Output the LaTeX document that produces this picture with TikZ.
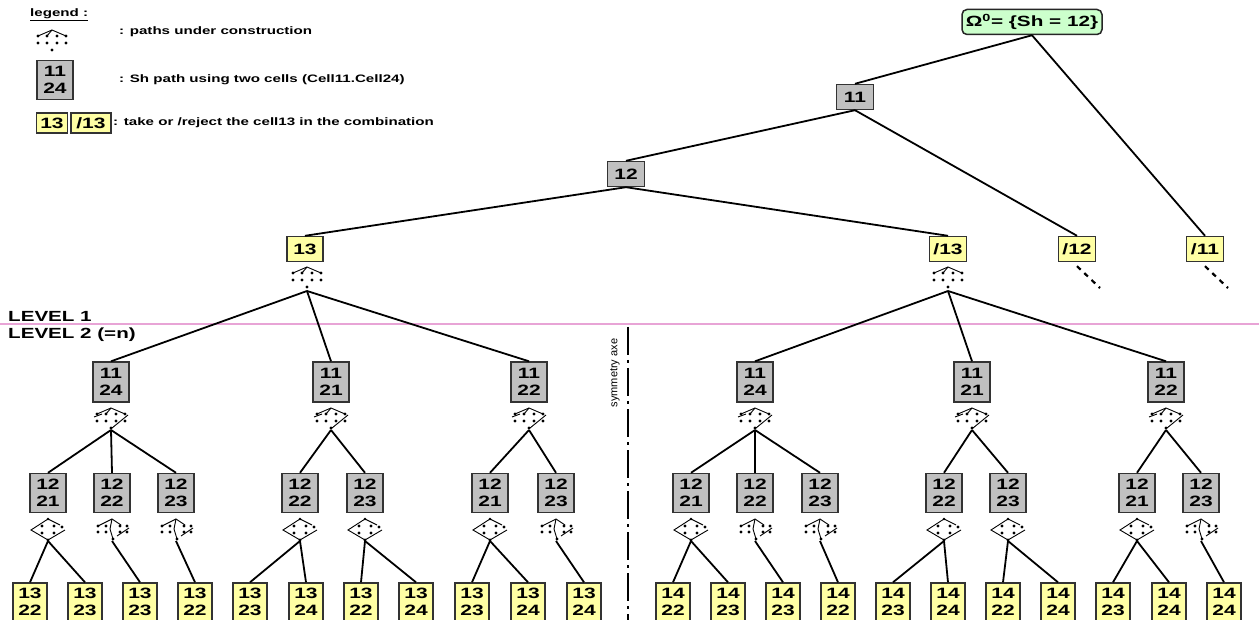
\documentclass[tikz,border=0pt]{standalone}
\usepackage{fontspec}
\setmainfont{Liberation Sans}[FakeStretch=1.4]
\newfontfamily\plainfont{Liberation Sans}
\definecolor{boxgray}{RGB}{192,192,192}
\definecolor{boxyellow}{RGB}{255,255,164}
\definecolor{boxgreen}{RGB}{204,255,204}
\definecolor{levelpink}{RGB}{232,164,214}
\tikzset{
  cell/.style={draw=black!80, line width=1.4pt, inner sep=0pt, align=center,
    font=\bfseries\fontsize{15}{16.5}\selectfont},
  gcell/.style={cell, fill=boxgray, minimum width=37, minimum height=25},
  ycell/.style={cell, fill=boxyellow, minimum width=36, minimum height=25},
  gpair/.style={cell, fill=boxgray, minimum width=36, minimum height=39},
  ypair/.style={cell, fill=boxyellow, minimum width=34, minimum height=38},
  rootbox/.style={draw=black!85, line width=1.5pt, fill=boxgreen, rounded corners=5pt,
    minimum width=140, minimum height=25, inner sep=2pt, font=\bfseries\fontsize{14.8}{17}\selectfont},
  edge/.style={line width=1.8pt, black},
  dashc/.style={line width=2.2pt, black, dash pattern=on 5pt off 5pt},
  gline/.style={line width=0.9pt, black},
  legtext/.style={anchor=west, inner sep=0pt, font=\bfseries\fontsize{10.8}{12}\selectfont},
  leveltext/.style={anchor=west, inner sep=0pt, font=\bfseries\fontsize{14.7}{16}\selectfont},
  glyphA/.pic={
    \draw[gline] (-14,6) -- (0,0) -- (14,6);
    \draw[gline] (0,0) -- (-5,6);
    \foreach \px in {-14,-5,5,14} {\fill (\px,6) circle (1.7pt); \fill (\px,13) circle (1.7pt);}
    \fill (0,20) circle (1.7pt);
  },
  glyphB/.pic={
    \draw[gline] (-14,6) -- (0,0) -- (14,6);
    \draw[gline] (0,0) -- (-5,6);
    \draw[gline] (17,7) -- (1,20);
    \draw[gline] (-17,9) -- (-9,6);
    \foreach \px in {-14,-5,5,14} {\fill (\px,6) circle (1.7pt); \fill (\px,13) circle (1.7pt);}
    \fill (0,20) circle (1.7pt);
  },
  glyphC/.pic={
    \draw[gline] (0,0) -- (-17,11) -- (0,21) -- (17,11);
    \draw[gline] (0,0) -- (12,6);
    \foreach \px in {-6,6} {\fill (\px,7) circle (1.7pt); \fill (\px,14) circle (1.7pt);}
    \fill (14,8) circle (1.7pt);
    \fill (0,0) circle (1.3pt);
    \fill (0,21) circle (1.7pt);
  },
  glyphD/.pic={
    \draw[gline] (-14,7) -- (0,0) -- (9,6);
    \draw[gline] (0,0) -- (-2,10) -- (1,20);
    \draw[gline] (17,9) -- (5,17);
    \foreach \px in {-14,-6,8,15} {\fill (\px,7) circle (1.7pt); \fill (\px,13) circle (1.7pt);}
    \fill (1,20) circle (1.7pt);
  },
}
\begin{document}
\begin{tikzpicture}[x=1pt, y=-1pt]
\useasboundingbox (0,0) rectangle (1259,620);
\fill[white] (0,0) rectangle (1259,620);

% ---------- legend ----------
\node[legtext] (lgtitle) at (30,15) {\underline{legend :}};
\pic at (52,30) {glyphA};
\node[legtext] (lg1) at (119,32) {: paths under construction};
\node[gpair] (lgbox) at (55,80) {11\\24};
\node[legtext] (lg2) at (119,80) {: Sh path using two cells (Cell11.Cell24)};
\node[ycell, minimum width=31, minimum height=20] (lgtake) at (52,123) {13};
\node[ycell, minimum width=40, minimum height=20] (lgrej) at (91,123) {/13};
\node[legtext] (lg3) at (113,123) {: take or /reject the cell13 in the combination};

% ---------- level separation ----------
\draw[levelpink, line width=1.8pt] (0,324) -- (1259,324);
\node[leveltext] (lev1) at (8,316) {LEVEL 1};
\node[leveltext] (lev2) at (8,335) {LEVEL 2 (=n)};

% ---------- symmetry axis ----------
\draw[line width=2.6pt, dash pattern=on 28pt off 5pt on 3pt off 5pt] (628,327) -- (628,622);
\node[rotate=90, inner sep=0pt, font=\plainfont\fontsize{11}{12}\selectfont] (symlbl) at (615,373) {symmetry axe};

% ---------- top of tree ----------
\node[rootbox] (root) at (1032,22) {Ω\textsuperscript{0}= \{Sh = 12\}};
\node[gcell] (n11) at (855,97) {11};
\node[gcell] (n12) at (626,174) {12};
\node[ycell] (t13) at (305,249) {13};
\node[ycell, minimum width=37] (s13) at (948,249) {/13};
\node[ycell, minimum width=37] (s12) at (1077,249) {/12};
\node[ycell, minimum width=37] (s11) at (1205,249) {/11};

\draw[edge] (root.south) -- (n11.north);
\draw[edge] (root.south) -- (s11.north);
\draw[edge] (n11.south) -- (n12.north);
\draw[edge] (n11.south) -- (s12.north);
\draw[edge] (n12.south) -- (t13.north);
\draw[edge] (n12.south) -- (s13.north);

\coordinate (e12) at (1100,288);
\coordinate (e11) at (1228,288);
\draw[dashc] ([yshift=-4pt]s12.south) -- (e12);
\draw[dashc] ([yshift=-4pt]s11.south) -- (e11);

% level-1 glyphs
\pic at (307,267) {glyphA};
\coordinate (gL) at (307,291);
\pic at (948,267) {glyphA};
\coordinate (gR) at (948,291);

% ---------- level 2 boxes ----------
\foreach \n/\x/\a/\b in {L1/111/11/24, L2/331/11/21, L3/529/11/22,
                          R1/755/11/24, R2/972/11/21, R3/1166/11/22} {
  \node[gpair, minimum height=40] (\n) at (\x,382) {\a\\\b};
  \pic at (\x,408) {glyphB};
  \coordinate (g\n) at (\x,430);
}
\foreach \c in {L1,L2,L3} \draw[edge] (gL) -- (\c.north);
\foreach \c in {R1,R2,R3} \draw[edge] (gR) -- (\c.north);

% ---------- level 3 boxes ----------
\foreach \n/\x/\a/\b/\v in {A1/48/12/21/C, A2/112/12/22/D, A3/176/12/23/D,
                             B1/300/12/22/C, B2/365/12/23/C,
                             C1/490/12/21/C, C2/556/12/23/D,
                             D1/691/12/21/C, D2/755/12/22/D, D3/820/12/23/D,
                             E1/944/12/22/C, E2/1008/12/23/C,
                             F1/1137/12/21/C, F2/1201/12/23/D} {
  \node[gpair] (\n) at (\x,493) {\a\\\b};
  \pic at (\x,519) {glyph\v};
  \coordinate (g\n) at (\x,541);
}
\foreach \p/\c in {gL1/A1, gL1/A2, gL1/A3, gL2/B1, gL2/B2, gL3/C1, gL3/C2,
                   gR1/D1, gR1/D2, gR1/D3, gR2/E1, gR2/E2, gR3/F1, gR3/F2}
  \draw[edge] (\p) -- (\c.north);

% ---------- leaves ----------
\foreach \n/\x/\a/\b in {l1/30/13/22, l2/85/13/23, l3/140/13/23, l4/195/13/22,
                          l5/250/13/23, l6/306/13/24, l7/361/13/22, l8/416/13/24,
                          l9/472/13/23, l10/528/13/24, l11/584/13/24,
                          r1/673/14/22, r2/728/14/23, r3/783/14/23, r4/838/14/22,
                          r5/893/14/23, r6/948/14/24, r7/1003/14/22, r8/1058/14/24,
                          r9/1113/14/23, r10/1169/14/24, r11/1224/14/24} {
  \node[ypair] (\n) at (\x,602) {\a\\\b};
}
\foreach \p/\c in {gA1/l1, gA1/l2, gA2/l3, gA3/l4, gB1/l5, gB1/l6, gB2/l7, gB2/l8,
                   gC1/l9, gC1/l10, gC2/l11,
                   gD1/r1, gD1/r2, gD2/r3, gD3/r4, gE1/r5, gE1/r6, gE2/r7, gE2/r8,
                   gF1/r9, gF1/r10, gF2/r11}
  \draw[edge] (\p) -- (\c.north);
\end{tikzpicture}
\end{document}
